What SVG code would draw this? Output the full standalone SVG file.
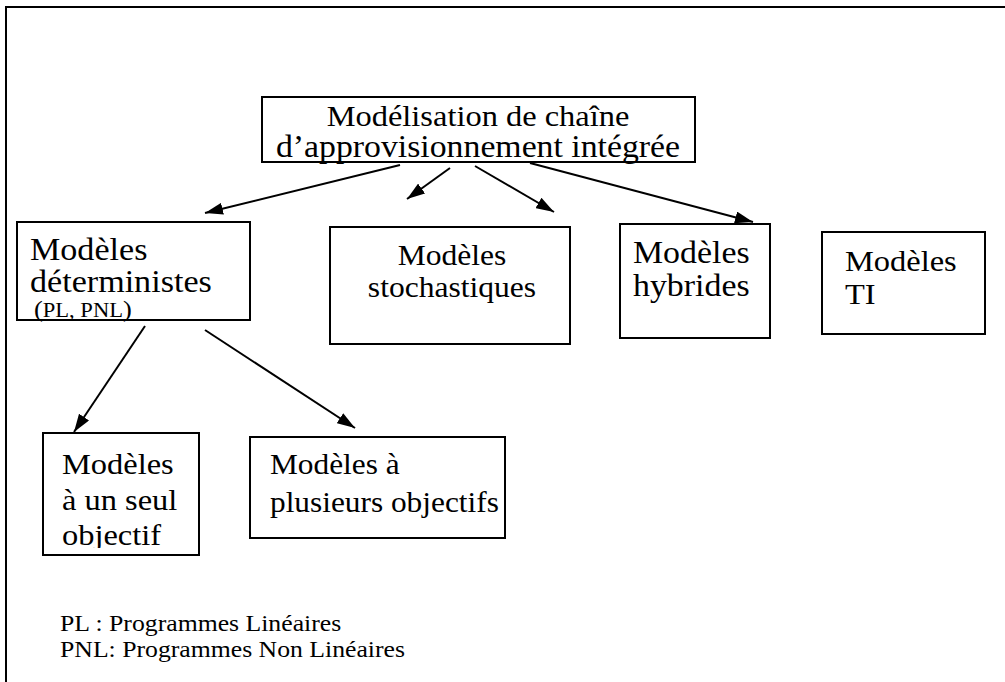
<svg xmlns="http://www.w3.org/2000/svg" width="1005" height="682" viewBox="0 0 1005 682">
  <style>
    text { font-family: "Liberation Serif", "Times New Roman", serif; fill: #000; }
    .box { fill: #fff; stroke: #000; stroke-width: 2; }
    .edge { stroke: #000; stroke-width: 2; fill: none; marker-end: url(#arrow); }
  </style>
  <defs>
    <marker id="arrow" viewBox="0 0 18 12" refX="18" refY="6" markerWidth="18" markerHeight="12" markerUnits="userSpaceOnUse" orient="auto">
      <path d="M0,0 L18,6 L0,12 z" fill="#000"/>
    </marker>
    <clipPath id="clip-seul"><rect x="43" y="433" width="156" height="115"/></clipPath>
  </defs>
  <rect width="1005" height="682" fill="#fff"/>

  <!-- outer frame (open on the right and bottom) -->
  <path d="M6,682 V7 H1005" stroke="#000" stroke-width="2" fill="none"/>

  <!-- text lines are set slightly wide: matrix(1.1 0 0 1 x y) -->
  <g id="racine">
    <rect class="box" x="262" y="97" width="433" height="65"/>
    <text font-size="29.5" transform="matrix(1.1 0 0 1 478 126)" text-anchor="middle">Modélisation de chaîne</text>
    <text font-size="30.7" transform="matrix(1.1 0 0 1 478 157)" text-anchor="middle">d’approvisionnement intégrée</text>
  </g>

  <g id="deterministes">
    <rect class="box" x="17" y="222" width="233" height="98"/>
    <text font-size="31" transform="matrix(1.1 0 0 1 30 260)">Modèles</text>
    <text font-size="31" transform="matrix(1.1 0 0 1 30 292)">déterministes</text>
    <text font-size="20.5" transform="matrix(1.1 0 0 1 34 317)"><tspan font-size="24">(</tspan>PL, PNL<tspan font-size="24">)</tspan></text>
  </g>

  <g id="stochastiques">
    <rect class="box" x="330" y="227" width="240" height="117"/>
    <text font-size="28.7" transform="matrix(1.1 0 0 1 452 265)" text-anchor="middle">Modèles</text>
    <text font-size="28.7" transform="matrix(1.1 0 0 1 452 297)" text-anchor="middle">stochastiques</text>
  </g>

  <g id="hybrides">
    <rect class="box" x="620" y="224" width="150" height="114"/>
    <text font-size="30.8" transform="matrix(1.1 0 0 1 633 263)">Modèles</text>
    <text font-size="30.8" transform="matrix(1.1 0 0 1 633 296)">hybrides</text>
  </g>

  <g id="ti">
    <rect class="box" x="822" y="232" width="163" height="102"/>
    <text font-size="29.5" transform="matrix(1.1 0 0 1 845 271)">Modèles</text>
    <text font-size="29.5" transform="matrix(1.1 0 0 1 845 304)">TI</text>
  </g>

  <g id="un-seul">
    <rect class="box" x="43" y="433" width="156" height="122"/>
    <g clip-path="url(#clip-seul)">
      <text font-size="29.5" transform="matrix(1.1 0 0 1 62 474)">Modèles</text>
      <text font-size="29.5" transform="matrix(1.1 0 0 1 62 510)">à un seul</text>
      <text font-size="29.5" transform="matrix(1.1 0 0 1 62 545)">objectif</text>
    </g>
  </g>

  <g id="plusieurs">
    <rect class="box" x="250" y="437" width="255" height="101"/>
    <text font-size="28.5" transform="matrix(1.1 0 0 1 270 474)">Modèles à</text>
    <text font-size="28.5" transform="matrix(1.1 0 0 1 270 512)">plusieurs objectifs</text>
  </g>

  <g id="legende">
    <text font-size="23.4" transform="matrix(1.1 0 0 1 60 631)">PL : Programmes Linéaires</text>
    <text font-size="23.4" transform="matrix(1.1 0 0 1 60 657)">PNL: Programmes Non Linéaires</text>
  </g>

  <g id="connecteurs">
    <line class="edge" x1="400" y1="165" x2="205" y2="213"/>
    <line class="edge" x1="450" y1="168" x2="407" y2="199"/>
    <line class="edge" x1="475" y1="166" x2="554" y2="212"/>
    <line class="edge" x1="530" y1="163" x2="753" y2="222"/>
    <line class="edge" x1="145" y1="326" x2="74" y2="432"/>
    <line class="edge" x1="205" y1="330" x2="355" y2="428"/>
  </g>
</svg>
